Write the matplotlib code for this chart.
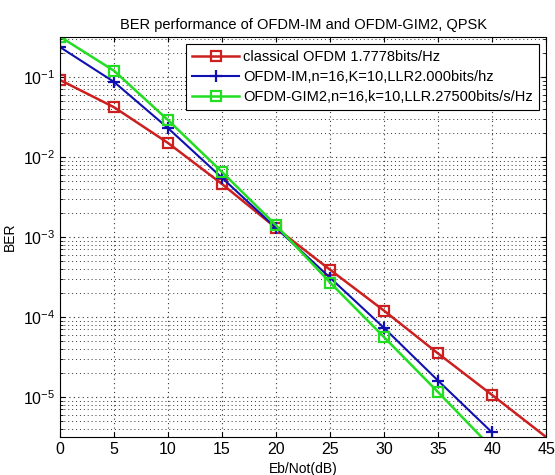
import numpy as np
import matplotlib
matplotlib.use('Agg')
import matplotlib.pyplot as plt

# Eb/N0 points (dB)
snr_db = [0, 5, 10, 15, 20, 25, 30, 35, 40, 45]

# BER curves
ber_ofdm = [0.092, 0.042, 0.015, 0.0046, 0.0013, 3.9e-4, 1.2e-4, 3.5e-5, 1.06e-5, 3.16e-6]
ber_im = [0.237, 0.087, 0.023, 0.0055, 0.0013, 3.1e-4, 7.3e-5, 1.6e-5, 3.6e-6]
ber_gim2 = [0.32, 0.12, 0.029, 0.0065, 0.0014, 2.7e-4, 5.6e-5, 1.15e-5, 2.3e-6]

labels = ['classical OFDM 1.7778bits/Hz',
          'OFDM-IM,n=16,K=10,LLR2.000bits/hz',
          'OFDM-GIM2,n=16,k=10,LLR.27500bits/s/Hz']

plt.rcParams['font.family'] = ['Liberation Sans', 'DejaVu Sans']

fig = plt.figure(figsize=(5.55, 4.75), dpi=100)
ax = fig.add_axes([0.108, 0.08, 0.876, 0.842])

# last red marker sits on the bottom edge and is not shown in the original
ax.semilogy(snr_db, ber_ofdm, '-s', color='#cc1f1f', lw=1.8, ms=7,
            mfc='none', mew=1.6, label=labels[0], markevery=list(range(len(snr_db) - 1)))
ax.semilogy(snr_db[:len(ber_im)], ber_im, '-+', color='#1010b0', lw=1.5, ms=8,
            mew=1.6, label=labels[1])
ax.semilogy(snr_db[:len(ber_gim2)], ber_gim2, '-s', color='#22dd22', lw=1.8, ms=7,
            mfc='none', mew=1.6, label=labels[2])

ax.set_xlim(0, 45)
ax.set_ylim(10 ** -5.5, 10 ** -0.5)
ax.set_xticks(np.arange(0, 50, 5))

ax.grid(True, which='major', ls=(0, (1, 3)), color='#333333', lw=0.8)
ax.grid(True, which='minor', axis='y', ls=(0, (1, 3)), color='#333333', lw=0.7)
ax.tick_params(which='both', direction='in', top=True, right=True, labelsize=11.5)

ax.set_title('BER performance of OFDM-IM and OFDM-GIM2, QPSK', fontsize=10.5)
ax.set_xlabel('Eb/Not(dB)', fontsize=10)
ax.set_ylabel('BER', fontsize=10)

leg = ax.legend(loc='upper right', fontsize=10.5, fancybox=False, framealpha=1,
                edgecolor='black', handlelength=3.2, handletextpad=0.3,
                borderaxespad=0.5, labelspacing=0.4, borderpad=0.4)
leg.get_frame().set_linewidth(0.8)

fig.savefig('out.png', dpi=100)
